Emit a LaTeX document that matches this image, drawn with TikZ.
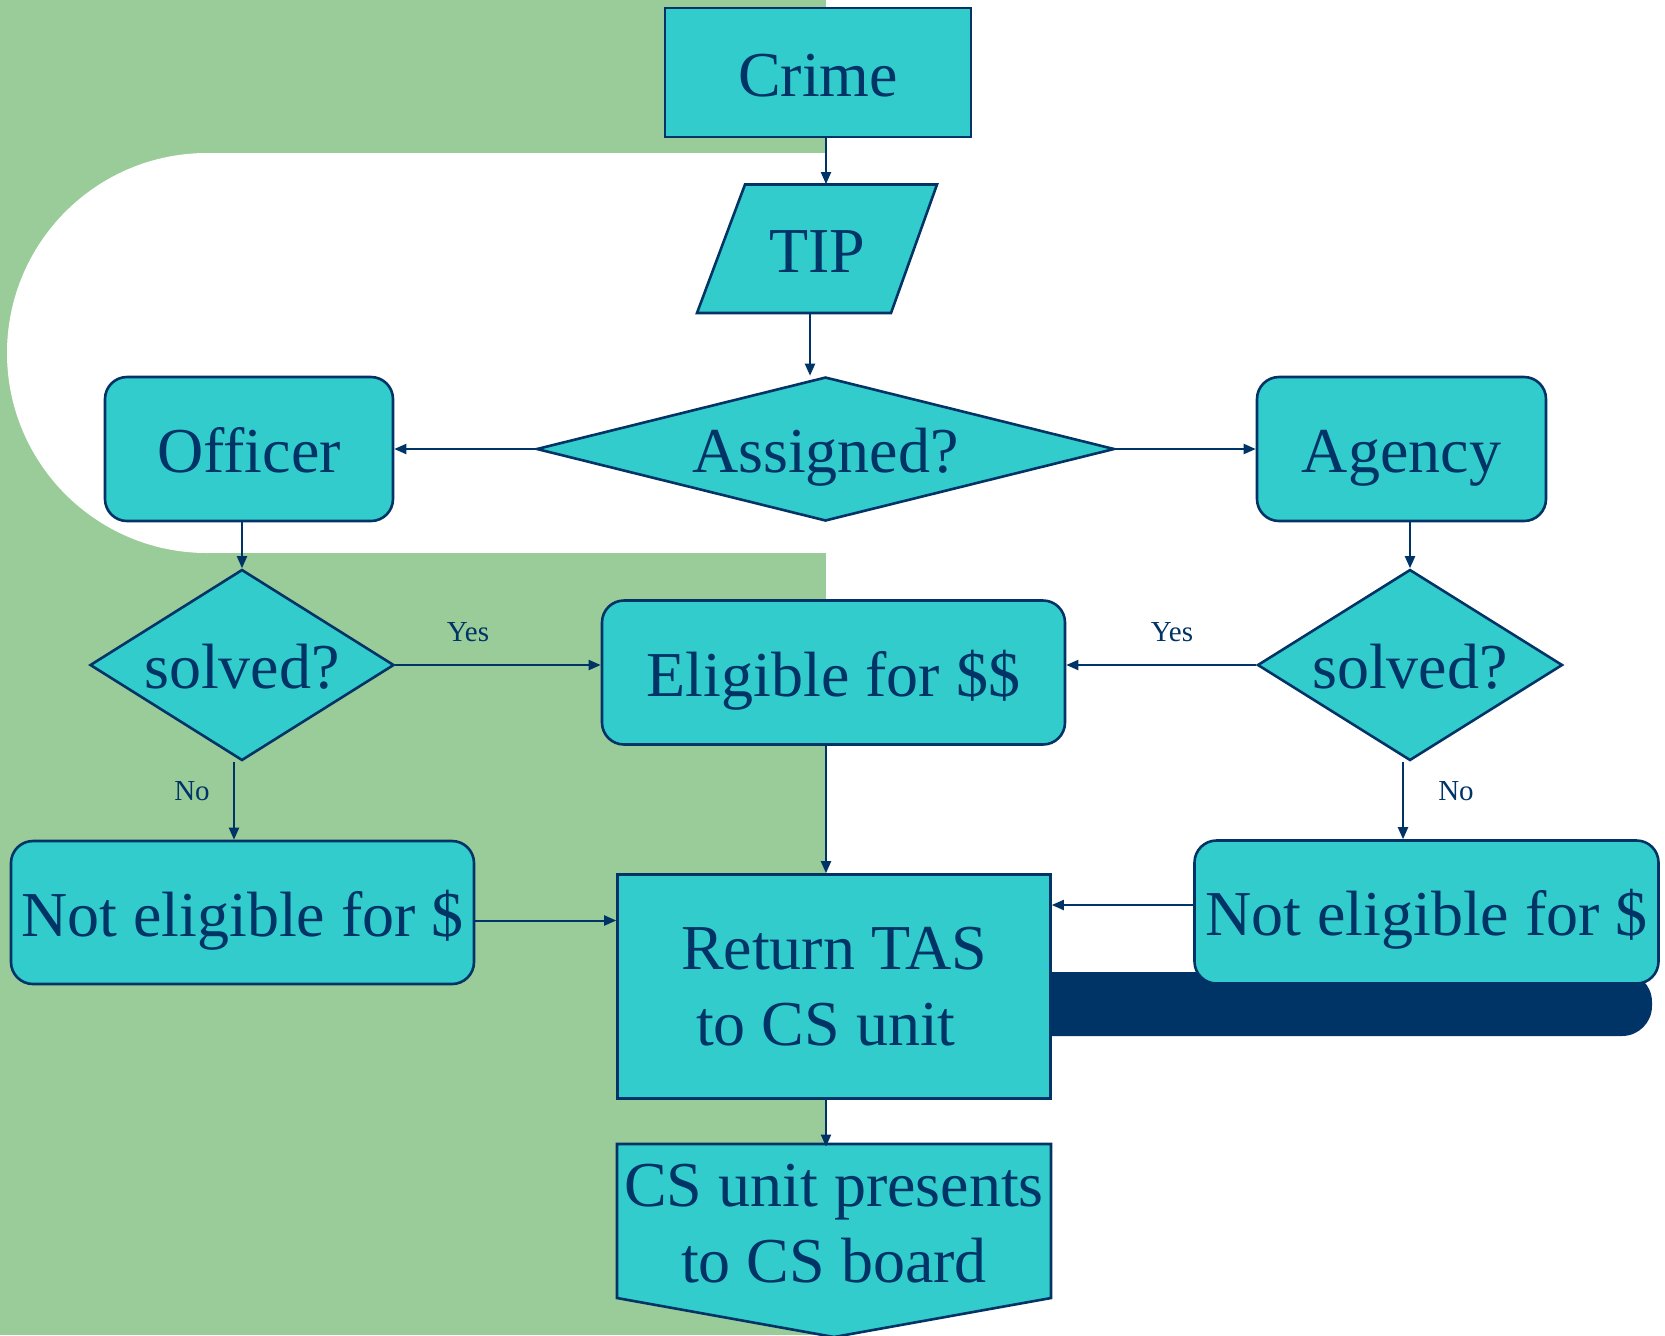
\documentclass[tikz,border=0pt]{standalone}
\usepackage{fontspec}
\setmainfont{Liberation Serif}
\usetikzlibrary{shapes.geometric,arrows.meta,calc}
\definecolor{bggreen}{HTML}{99CC99}
\definecolor{boxteal}{HTML}{33CCCC}
\definecolor{navy}{HTML}{003366}
\begin{document}
\begin{tikzpicture}[x=0.5pt,y=-0.5pt,
  every node/.style={text=navy},
  base/.style={draw=navy, fill=boxteal, line width=1.3pt, inner sep=0pt,
    font=\fontsize{32}{38}\selectfont, align=center},
  one/.style={text height=27.5pt, text depth=4pt},
  sqbox/.style={base, rectangle},
  rbox/.style={base, rectangle, rounded corners=11pt, one},
  dec/.style={base, diamond, one},
  lbl/.style={font=\fontsize{14.5}{17}\selectfont, inner sep=0pt},
  arr/.style={draw=navy, line width=1pt, -{Triangle[length=6pt,width=5pt]}},
]
\useasboundingbox (0,0) rectangle (1665,1335);
% background
\fill[bggreen] (0,0) rectangle (826,1335);
\fill[white] (207,353) circle[radius=200];
\fill[white] (207,153) rectangle (826,553);
% dark bar
\fill[navy, rounded corners=15pt] (1000,972) rectangle (1652,1036);
% TIP parallelogram
\path[draw=navy, fill=boxteal, line width=1.3pt]
  (745,184.5) -- (937,184.5) -- (891,313) -- (697,313) -- cycle;
% CS pentagon
\path[draw=navy, fill=boxteal, line width=1.3pt]
  (617,1144) -- (1051,1144) -- (1051,1298) -- (834,1337) -- (617,1298) -- cycle;

% nodes
\node[sqbox, one, minimum width=153pt, minimum height=64.5pt] (crime) at (818,72.5) {Crime};
\node[inner sep=0pt, one, font=\fontsize{32}{38}\selectfont,
  minimum width=120pt, minimum height=64.5pt] (tip) at (817,249) {TIP};
\node[dec, aspect=4, minimum width=289pt, minimum height=72pt] (assigned) at (825.5,449) {Assigned?};
\node[rbox, minimum width=144pt, minimum height=72pt] (officer) at (249,449) {Officer};
\node[rbox, minimum width=144.5pt, minimum height=72pt] (agency) at (1401.5,449) {Agency};
\node[dec, aspect=1.6, minimum width=152pt, minimum height=95.5pt] (solvedL) at (242,665) {solved?};
\node[dec, aspect=1.6, minimum width=152.5pt, minimum height=95.5pt] (solvedR) at (1410,665) {solved?};
\node[rbox, minimum width=231.5pt, minimum height=72pt] (eligible) at (833.5,672.5) {Eligible for \$\$};
\node[rbox, minimum width=231.5pt, minimum height=71.5pt] (notL) at (242.5,912.5) {Not eligible for \$};
\node[rbox, minimum width=232pt, minimum height=71.5pt] (notR) at (1426.5,912) {Not eligible for \$};
\node[sqbox, minimum width=216.5pt, minimum height=112pt] (return) at (834,986.5) {Return TAS\\to CS unit\kern8pt};
\node[inner sep=0pt, minimum width=216.5pt, minimum height=77pt,
  font=\fontsize{32}{38}\selectfont, align=center] (cs) at (834,1224) {CS unit presents\\to CS board};

\node[lbl] (yesL) at (468,632) {Yes};
\node[lbl] (yesR) at (1172,632) {Yes};
\node[lbl] (noL) at (192,791) {No};
\node[lbl] (noR) at (1456,791) {No};

% connectors
\coordinate (ax) at (826,0);
\coordinate (tx) at (810,0);
\draw[arr] (crime.south -| ax) -- (tip.north -| ax);
\draw[arr] (tip.south -| tx) -- (assigned.north -| tx);
\draw[arr] (assigned.west) -- (officer.east);
\draw[arr] (assigned.east) -- (agency.west);
\draw[arr] (officer.south -| solvedL.north) -- (solvedL.north);
\draw[arr] (agency.south -| solvedR.north) -- (solvedR.north);
\draw[arr] (solvedL.east) -- (solvedL.east -| eligible.west);
\draw[arr] (solvedR.west) -- (solvedR.west -| eligible.east);
\coordinate (nlx) at ($(solvedL.south)+(-8,0)$);
\draw[arr] (nlx) -- (nlx |- notL.north);
\coordinate (nrx) at ($(solvedR.south)+(-7,0)$);
\draw[arr] (nrx) -- (nrx |- notR.north);
\draw[arr] (eligible.south -| ax) -- (return.north -| ax);
\coordinate (nly) at ($(notL.east)+(0,8)$);
\draw[arr] (nly) -- (nly -| return.west);
\coordinate (nry) at ($(notR.west)+(0,-7)$);
\draw[arr] (nry) -- (nry -| return.east);
\draw[arr] (return.south -| ax) -- (cs.north -| ax);
\end{tikzpicture}
\end{document}
